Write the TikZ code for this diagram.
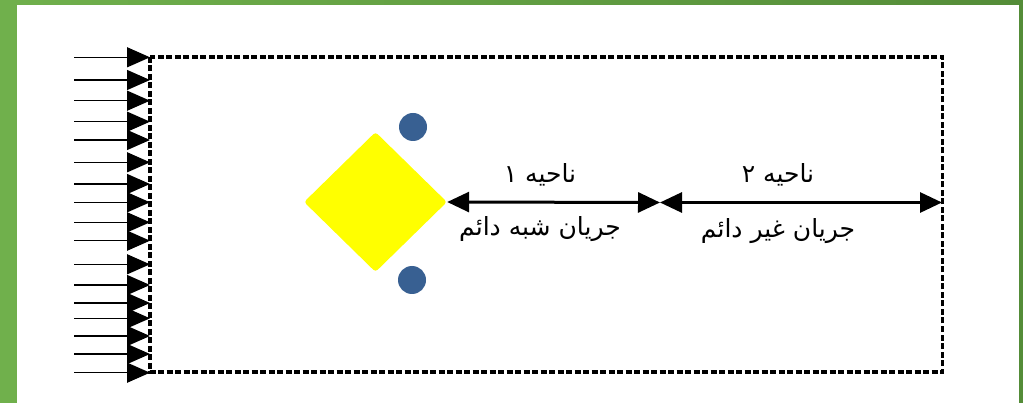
\documentclass[tikz,border=0pt]{standalone}
\usepackage{fontspec}
\usetikzlibrary{arrows.meta,shapes.geometric}
\TeXXeTstate=1
\newfontfamily\arabicfont[Script=Arabic]{DejaVu Sans}
\definecolor{frameL}{RGB}{112,176,76}
\definecolor{frameR}{RGB}{84,140,56}
\definecolor{dotblue}{RGB}{56,96,146}
\definecolor{diayellow}{RGB}{255,255,0}
\tikzset{
  inflow/.style={line width=1.3pt,-{Triangle[length=23pt,width=20pt]}},
  dimline/.style={line width=3pt,{Triangle[length=22pt,width=20pt]}-{Triangle[length=22pt,width=20pt]}},
  domainbox/.style={line width=3.3pt,dash pattern=on 6pt off 2.5pt},
  dot/.style={circle,fill=dotblue,minimum size=28pt,inner sep=0pt},
  lbl/.style={font=\arabicfont\fontsize{25pt}{30pt}\selectfont,inner sep=0pt}
}
\begin{document}
\begin{tikzpicture}[x=1pt,y=-1pt]
\useasboundingbox (0,0) rectangle (1023,403);
\shade[left color=frameL,right color=frameR] (0,0) rectangle (1023,403);
\fill[white] (17,5) rectangle (1019,403);
% domain
\draw[domainbox] (150,57) rectangle (942.5,372);
% inflow arrows
\foreach \i/\y in {1/57.3,2/80,3/100.7,4/121.7,5/140,6/162.3,7/184,8/202.3,9/222.3,10/240.7,11/264.3,12/285,13/303,14/318.3,15/336,16/354,17/372.7}{
  \coordinate (s\i) at (74,\y);
  \coordinate (t\i) at (150,\y);
  \draw[inflow] (s\i) -- (t\i);
}
% body
\node[diamond,fill=diayellow,minimum width=143pt,minimum height=140pt,inner sep=0pt,rounded corners=3pt] (dia) at (375.5,202) {};
\node[dot] (c1) at (413,127) {};
\node[dot] (c2) at (412,280) {};
% zones
\coordinate (m) at (660,202.5);
\coordinate (e) at (942,202.5);
\draw[dimline] (dia.east) -- (m);
\draw[dimline] (m) -- (e);
\node[lbl] (z1) at (540,175) {\beginR ناحیه ۱\endR};
\node[lbl] (f1) at (540,229) {\beginR جریان شبه دائم\endR};
\node[lbl] (z2) at (778,175) {\beginR ناحیه ۲\endR};
\node[lbl] (f2) at (778,231) {\beginR جریان غیر دائم\endR};
\end{tikzpicture}
\end{document}
